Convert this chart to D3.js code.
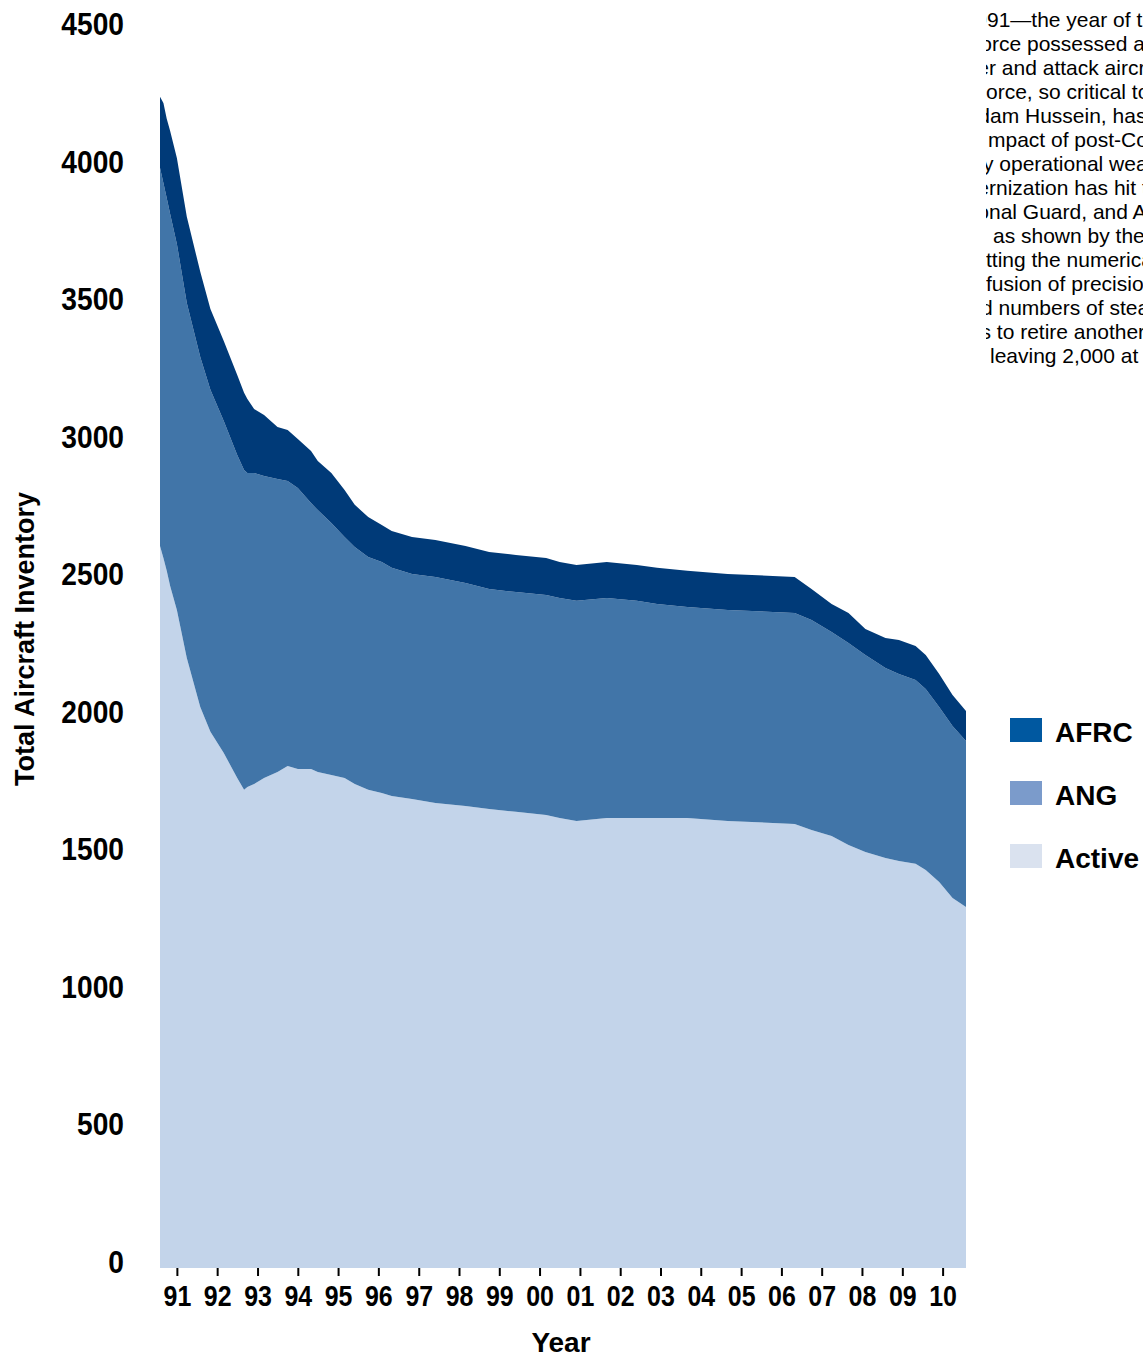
<!DOCTYPE html>
<html>
<head>
<meta charset="utf-8">
<script src="https://cdn.jsdelivr.net/npm/d3@7"></script>
<style>
  body { margin: 0; background: #fff; }
  svg { display: block; }
  .bold { font-family: "Liberation Sans", Arial, Helvetica, sans-serif; font-weight: bold; fill: #000; }
  .para { font-family: "Liberation Sans", Arial, Helvetica, sans-serif; font-size: 21px; fill: #000; }
</style>
</head>
<body>
<svg id="svg" width="1143" height="1356"></svg>
<script>
// ====================================================================================
// === Data (monthly inventory at key months)

var months = ['1990-08', '1990-09', '1990-10', '1990-11', '1991-01', '1991-04', '1991-08', '1991-11',
  '1992-03', '1992-07', '1992-09', '1992-10', '1992-12', '1993-03', '1993-07', '1993-10',
  '1994-01', '1994-05', '1994-07', '1994-11', '1995-03', '1995-06', '1995-10', '1996-02',
  '1996-05', '1996-11', '1997-06', '1998-03', '1998-10', '1999-06', '2000-03', '2000-07',
  '2000-12', '2001-09', '2002-06', '2002-12', '2003-09', '2004-09', '2006-05', '2006-10',
  '2007-04', '2007-09', '2008-02', '2008-08', '2008-12', '2009-05', '2009-08', '2009-12',
  '2010-04', '2010-08'];

var active = [2624, 2581, 2534, 2479, 2392, 2217, 2039, 1949,
  1872, 1781, 1738, 1748, 1759, 1781, 1803, 1825,
  1814, 1814, 1803, 1792, 1781, 1759, 1738, 1727,
  1716, 1705, 1690, 1679, 1668, 1658, 1647, 1636,
  1625, 1636, 1636, 1636, 1636, 1625, 1614, 1592,
  1570, 1538, 1512, 1490, 1479, 1469, 1447, 1403,
  1345, 1312];

var ang = [1375, 1363, 1355, 1352, 1330, 1291, 1272, 1243,
  1207, 1174, 1163, 1142, 1131, 1098, 1065, 1036,
  1021, 967, 952, 916, 876, 862, 846, 839,
  829, 818, 822, 811, 800, 799, 799, 799,
  800, 799, 789, 778, 767, 767, 767, 763,
  742, 734, 716, 691, 680, 668, 658, 636,
  625, 604];

var afrc = [258, 291, 288, 302, 313, 313, 310, 294,
  291, 291, 280, 269, 232, 222, 189, 185,
  178, 189, 178, 182, 171, 153, 146, 135,
  134, 134, 134, 134, 135, 135, 135, 131,
  130, 131, 130, 131, 131, 131, 131, 113,
  102, 109, 95, 109, 124, 124, 123, 120,
  113, 109];

var yTicks = [0, 500, 1000, 1500, 2000, 2500, 3000, 3500, 4000, 4500];
var seriesKeys = ['active', 'ang', 'afrc'];
var legendKeys = ['AFRC', 'ANG', 'Active'];

// clipped text column on the right: [hidden part, shown part, x where shown part starts]
var noteLines = [
  ['In 19', '91\u2014the year of the Gulf War', 987],
  ['the Air Fo', 'rce possessed about 4,200', 992],
  ['fighte', 'r and attack aircraft. The', 989],
  ['The fighter\u00a0\u00a0', 'orce, so critical to the', 986],
  ['defeat of Sadd', 'am Hussein, has since', 990],
  ['felt the\u00a0\u00a0', 'mpact of post-Cold War', 988],
  ['cuts. Man', 'y operational weapons', 983],
  ['and delayed mode', 'rnization has hit the', 989],
  ['active, Natio', 'nal Guard, and Air Force', 989],
  ['Reserve Command\u00a0\u00a0', 'as shown by the chart,', 993],
  ['cu', 'tting the numerical', 986],
  ['Even the in', 'fusion of precision', 986],
  ['and reduce', 'd numbers of stealth', 981],
  ['The service plans ', 'to retire another', 991],
  ['aircraft in 2010\u00a0\u00a0', 'leaving 2,000 at', 990]
];

// ====================================================================================
// === Setup

var svg = d3.select('#svg'),
    parseMonth = d3.timeParse('%Y-%m'),
    baseY = 1268;

var rows = months.map(function (m, i) {
  return { date: parseMonth(m), active: active[i], ang: ang[i], afrc: afrc[i] };
});

var x = d3.scaleTime()
  .domain([parseMonth('1990-08'), parseMonth('2010-08')])
  .range([160, 966]);

var y = d3.scaleLinear()
  .domain([0, 4500])
  .range([baseY, 30]);

var areaColors = { active: '#c3d4ea', ang: '#4175a8', afrc: '#003a78' };
var legendColors = { AFRC: '#0058a0', ANG: '#7b9bcb', Active: '#dae2ef' };

drawAreas();
drawAxes();
drawLegend();
drawNote();

// ====================================================================================
// === Drawing

function drawAreas () {
  var stacked = d3.stack().keys(seriesKeys)(rows);
  var area = d3.area()
    .x(function (d) { return x(d.data.date); })
    .y0(function (d) { return y(d[0]); })
    .y1(function (d) { return y(d[1]); });

  svg.append('g').selectAll('path')
    .data(stacked)
    .enter().append('path')
      .attr('fill', function (d) { return areaColors[d.key]; })
      .attr('d', area);
}

function drawAxes () {
  // x axis: year ticks, two digit labels (condensed look via scaleX)
  var gx = svg.append('g')
    .attr('transform', 'translate(0,' + baseY + ')')
    .call(d3.axisBottom(x)
      .ticks(d3.timeYear.every(1))
      .tickFormat(d3.timeFormat('%y'))
      .tickSize(8));
  gx.select('.domain').remove();
  gx.selectAll('.tick line').attr('stroke', '#000').attr('stroke-width', 2);
  gx.selectAll('.tick text')
    .attr('class', 'bold')
    .attr('y', 38)
    .attr('dy', 0)
    .attr('transform', 'scale(0.86,1)')
    .style('font-size', '29px');

  // y axis: labels only
  var gy = svg.append('g')
    .attr('transform', 'translate(124,0)')
    .call(d3.axisLeft(y).tickValues(yTicks).tickFormat(d3.format('d')).tickSize(0).tickPadding(0));
  gy.select('.domain').remove();
  gy.selectAll('.tick text')
    .attr('class', 'bold')
    .attr('y', -7)
    .attr('dy', '0.36em')
    .attr('transform', 'scale(0.88,1)')
    .style('font-size', '32px');

  svg.append('text')
    .attr('class', 'bold')
    .attr('text-anchor', 'middle')
    .attr('transform', 'translate(34,639) rotate(-90)')
    .style('font-size', '27px')
    .text('Total Aircraft Inventory');

  svg.append('text')
    .attr('class', 'bold')
    .attr('text-anchor', 'middle')
    .attr('x', 561)
    .attr('y', 1352)
    .style('font-size', '28px')
    .text('Year');
}

function drawLegend () {
  var g = svg.append('g').attr('transform', 'translate(1010,718)');
  var item = g.selectAll('g')
    .data(legendKeys)
    .enter().append('g')
      .attr('transform', function (d, i) { return 'translate(0,' + (i * 63) + ')'; });

  item.append('rect')
    .attr('width', 32)
    .attr('height', 24)
    .attr('fill', function (d) { return legendColors[d]; });

  item.append('text')
    .attr('class', 'bold')
    .attr('x', 45)
    .attr('y', 24)
    .style('font-size', '28px')
    .text(function (d) { return d; });
}

function drawNote () {
  svg.append('clipPath').attr('id', 'noteClip')
    .append('rect')
      .attr('x', 986).attr('y', 0)
      .attr('width', 200).attr('height', 400);

  var g = svg.append('g').attr('clip-path', 'url(#noteClip)');
  var probe = g.append('text').attr('class', 'para');

  noteLines.forEach(function (line, i) {
    probe.text(line[0]);
    var w = probe.node().getComputedTextLength();
    g.append('text')
      .attr('class', 'para')
      .attr('x', line[2] - w)
      .attr('y', 27 + i * 24)
      .text(line[0] + line[1]);
  });
  probe.remove();
}
</script>
</body>
</html>
